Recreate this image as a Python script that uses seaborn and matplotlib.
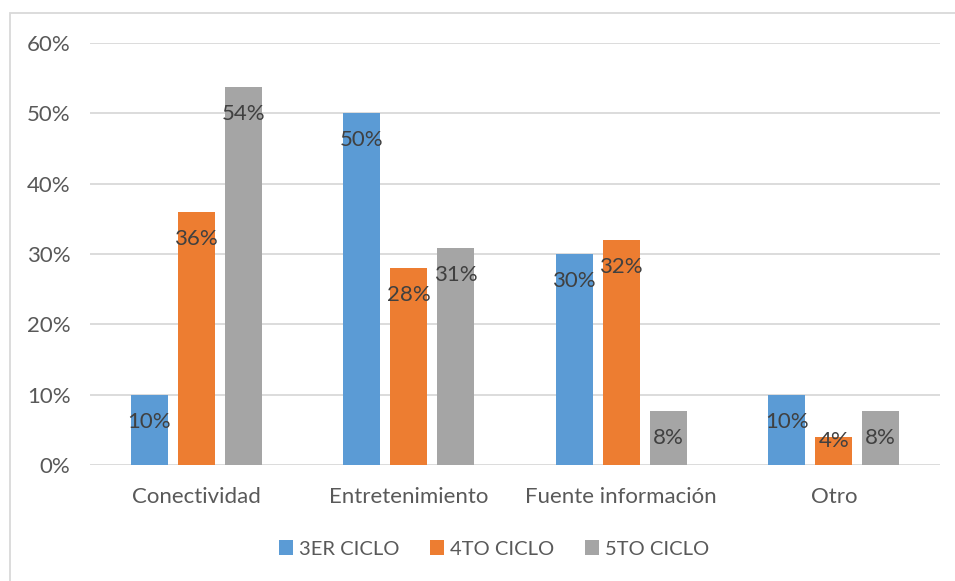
import pandas as pd
import seaborn as sns
import matplotlib.pyplot as plt
from matplotlib.patches import Rectangle
from matplotlib.ticker import PercentFormatter

categorias = ["Conectividad", "Entretenimiento", "Fuente información", "Otro"]
ciclos = ["3ER CICLO", "4TO CICLO", "5TO CICLO"]
ciclo_3 = [10.0, 50.0, 30.0, 10.0]
ciclo_4 = [36.0, 28.0, 32.0, 4.0]
ciclo_5 = [53.8, 30.8, 7.7, 7.7]
colores = ["#5B9BD5", "#ED7D31", "#A5A5A5"]

tabela = pd.DataFrame({
    "categoria": categorias * 3,
    "ciclo": [c for c in ciclos for _ in categorias],
    "valor": ciclo_3 + ciclo_4 + ciclo_5,
})

sns.set_style("white")
plt.rcParams["font.family"] = ["Lato", "DejaVu Sans"]

fig = plt.figure(figsize=(9.55, 5.81), dpi=100)
ax = fig.add_axes([90 / 955, 1 - 465 / 581, 850 / 955, 422 / 581])

sns.barplot(data=tabela, x="categoria", y="valor", hue="ciclo", palette=colores,
            width=0.664, gap=0.21, ax=ax, legend=True, saturation=1, errorbar=None,
            linewidth=0)

ax.set_ylim(0, 60)
ax.set_xlim(-0.5, 3.5)
ax.set_yticks(range(0, 61, 10))
ax.yaxis.set_major_formatter(PercentFormatter(decimals=0))
ax.grid(axis="y", color="#D9D9D9", linewidth=1.3)
ax.set_axisbelow(True)
for s in ax.spines.values():
    s.set_visible(False)
ax.tick_params(axis="y", labelsize=16, colors="#595959", length=0, pad=14)
ax.tick_params(axis="x", labelsize=16, colors="#595959", length=0, pad=16)
ax.set_xlabel("")
ax.set_ylabel("")

# etiquetas dentro del final de cada barra
for cont in ax.containers:
    for p in cont:
        h = p.get_height()
        y = max(h - 3.85, 3.4)
        ax.text(p.get_x() + p.get_width() / 2, y, f"{h:.0f}%", ha="center", va="center",
                fontsize=16, color="#404040")

handles, labels = ax.get_legend_handles_labels()
ax.legend_.remove()
fig.legend(handles, labels, loc="center", bbox_to_anchor=(494 / 955, 1 - 549 / 581), ncol=3,
           frameon=False, fontsize=14.5, handlelength=0.7, handleheight=0.7,
           handletextpad=0.3, columnspacing=1.5, labelcolor="#595959")

fig.patches.append(Rectangle((10 / 955, -0.1), 1.2, 1 - 13 / 581 + 0.1, transform=fig.transFigure,
                             fill=False, edgecolor="#D9D9D9", linewidth=1.3))

fig.savefig("out.png", dpi=100)
